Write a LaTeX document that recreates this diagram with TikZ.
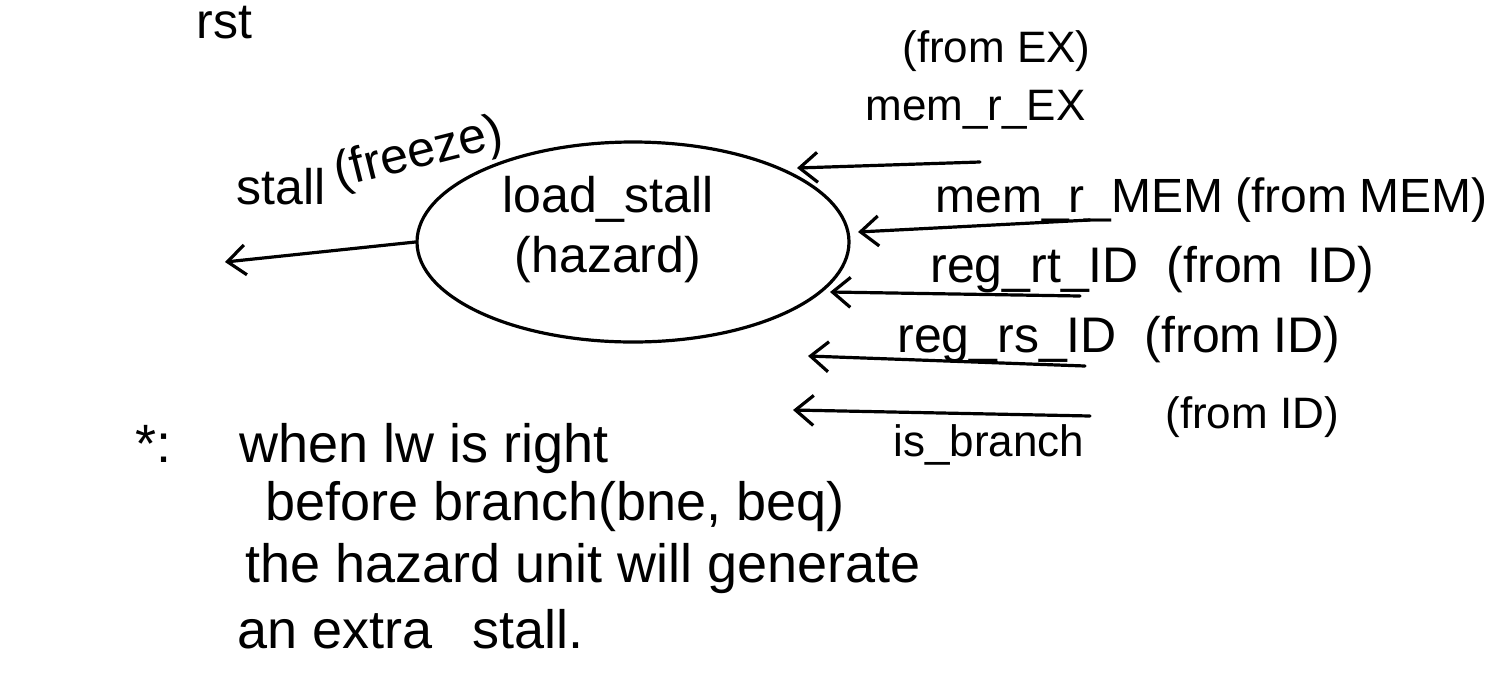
\documentclass[tikz,border=0pt]{standalone}
\usepackage{fontspec}
\setmainfont{Liberation Sans}
\usetikzlibrary{arrows.meta,shapes.geometric}
\begin{document}
\begin{tikzpicture}[x=0.5pt,y=-0.5pt,
  ink/.style={line width=1.6pt,line cap=round},
  sig/.style={ink,-{Straight Barb[length=9pt,width=15pt,line width=1.6pt]}},
  lbl/.style={font=\fontsize{22}{26}\selectfont,inner sep=0pt,anchor=base west},
  big/.style={lbl,font=\fontsize{25}{30}\selectfont},
  note/.style={lbl,font=\fontsize{27}{32}\selectfont}]
\useasboundingbox (0,0) rectangle (1508,697);
\fill[white] (0,0) rectangle (1508,697);
% top-left fragment
\node[big] (rst) at (196,38) {rst};
% hazard unit
\node[ink,draw,ellipse,minimum width=216pt,minimum height=100pt] (hz) at (633,242) {};
\node[big,anchor=base] (t1) at (608,212) {load\_stall};
\node[big,anchor=base] (t2) at (608,272) {(hazard)};
% output
\coordinate (out) at (225,262);
\draw[sig] (hz.west) -- (out);
\node[big] (st) at (236,204) {stall};
\node[big,rotate=14] (fz) at (338,188) {(freeze)};
% inputs
\coordinate (a1) at (980,162);  \coordinate (h1) at (797,168);
\coordinate (a2) at (1090,220); \coordinate (h2) at (858,232);
\coordinate (a3) at (1080,296); \coordinate (h3) at (830,292);
\coordinate (a4) at (1085,366); \coordinate (h4) at (808,356);
\coordinate (a5) at (1090,416); \coordinate (h5) at (793,410);
\draw[sig] (a1) -- (h1);
\draw[sig] (a2) -- (h2);
\draw[sig] (a3) -- (h3);
\draw[sig] (a4) -- (h4);
\draw[sig] (a5) -- (h5);
\node[lbl] (l1a) at (902,62) {(from EX)};
\node[lbl] (l1b) at (865,120) {mem\_r\_EX};
\node[lbl,font=\fontsize{24}{28}\selectfont] (l2) at (935,212) {mem\_r\_MEM\hspace{6pt}(from\hspace{6pt}MEM)};
\node[big] (l3) at (930,282) {reg\_rt\_ID\hspace{14pt}(from\hspace{12pt}ID)};
\node[big] (l4) at (897,352) {reg\_rs\_ID\hspace{14pt}(from\hspace{6pt}ID)};
\node[lbl] (l5a) at (1165,428) {(from ID)};
\node[lbl] (l5b) at (893,456) {is\_branch};
% note
\node[note] (n1) at (135,462) {*:\hspace{34pt}when lw is right};
\node[note] (n2) at (265,520) {before branch(bne, beq)};
\node[note] (n3) at (245,582) {the hazard unit will generate};
\node[note] (n4) at (237,648) {an extra\hspace{20pt}stall.};
\end{tikzpicture}
\end{document}
